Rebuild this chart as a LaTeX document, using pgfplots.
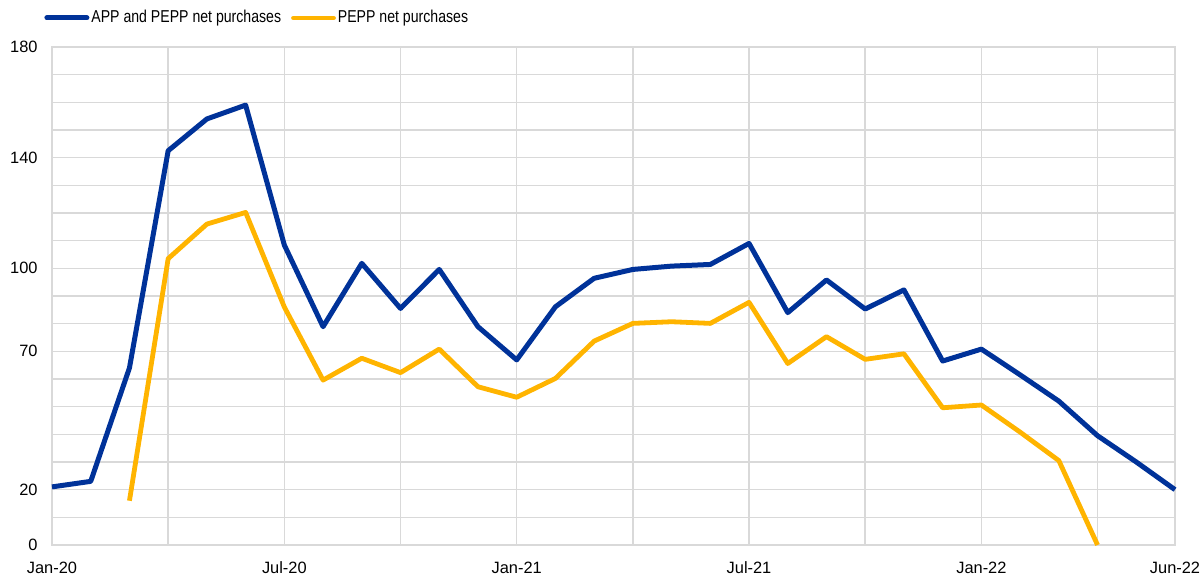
\documentclass[border=0pt]{standalone}
\usepackage{fontspec}
\setmainfont{Liberation Sans}
\newfontfamily\legfont[FakeStretch=0.82]{Liberation Sans}
\usepackage{pgfplots}
\pgfplotsset{compat=1.18}
\definecolor{ecbblue}{HTML}{003299}
\definecolor{ecbyellow}{HTML}{FFB400}
\definecolor{gridgray}{HTML}{D9D9D9}
\begin{document}
\fontsize{8.2bp}{10bp}\selectfont
\begin{tikzpicture}
\begin{axis}[
  scale only axis,
  width=561.5bp, height=249bp,
  xmin=0, xmax=29, ymin=0, ymax=180,
  clip=false,
  xtick={0,6,12,18,24,29},
  xticklabels={Jan-20,Jul-20,Jan-21,Jul-21,Jan-22,Jun-22},
  minor xtick={3,9,15,21,27},
  ytick={0,20,70,100,140,180},
  minor ytick={10,30,40,50,60,80,90,110,120,130,150,160,170},
  grid=both,
  grid style={gridgray, line width=0.75bp},
  major grid style={gridgray, line width=0.75bp},
  minor grid style={gridgray, line width=0.75bp},
  axis line style={gridgray, line width=0.75bp},
  major tick length=0pt, minor tick length=0pt,
  tick style={draw=none},
  /pgf/number format/assume math mode=true,
  ticklabel style={font=\fontsize{8.2bp}{10bp}\selectfont, text=black},
  xticklabel style={yshift=-5.5bp},
  yticklabel style={xshift=-4.3bp},
  legend columns=2,
  legend style={at={(axis description cs:0,1)}, anchor=west, xshift=-4bp, yshift=14.5bp,
    draw=none, fill=none, inner sep=0pt,
    font=\legfont\fontsize{8.6bp}{10bp}\selectfont,
    nodes={inner sep=1bp},
    /tikz/every even column/.append style={column sep=4bp}},
  legend image code/.code={\draw[#1, line cap=round] (0bp,0bp) -- (20bp,0bp);},
]
\addplot[ecbblue, line width=2.5bp, line join=round] coordinates {
(0,21) (1,23) (2,64) (3,142.5) (4,154) (5,159) (6,108.4) (7,78.9) (8,101.8) (9,85.5)
(10,99.6) (11,78.9) (12,66.9) (13,86.1) (14,96.4) (15,99.6) (16,100.8) (17,101.4) (18,109) (19,84)
(20,95.8) (21,85.3) (22,92.2) (23,66.5) (24,70.8) (25,61.5) (26,52) (27,39.5) (28,30) (29,20)
};
\addlegendentry{APP and PEPP net purchases}
\addplot[ecbyellow, line width=2.4bp, line join=round] coordinates {
(2,16) (3,103.5) (4,116) (5,120.2) (6,86) (7,59.6) (8,67.5) (9,62.3) (10,70.8)
(11,57.2) (12,53.4) (13,60.2) (14,73.7) (15,80.1) (16,80.7) (17,80.1) (18,87.7) (19,65.6)
(20,75.3) (21,67.1) (22,69.1) (23,49.6) (24,50.6) (25,40.8) (26,30.5) (27,0)
};
\addlegendentry{PEPP net purchases}
\end{axis}
\pgfresetboundingbox
\useasboundingbox (-26bp,-15.5bp) rectangle (574bp,272.5bp);
\end{tikzpicture}
\end{document}
